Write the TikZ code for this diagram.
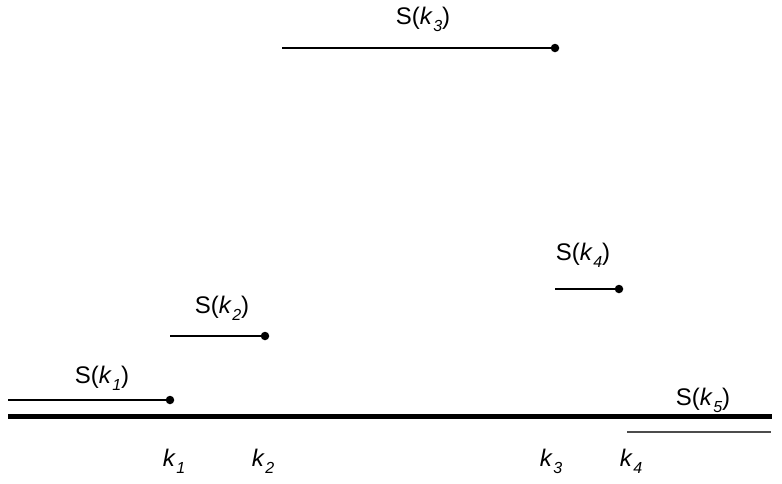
\documentclass[tikz,border=0pt]{standalone}
\usepackage{fontspec}
\setmainfont{Liberation Sans}
\newcommand\ksub[1]{\textit{k}\kern0.5pt\raisebox{-0.3em}{\fontsize{16}{16}\selectfont\itshape #1}}
\begin{document}
\begin{tikzpicture}[x=1pt,y=-1pt,
  lbl/.style={anchor=base,inner sep=0pt,font=\fontsize{24}{24}\selectfont},
  seg/.style={line width=2pt},
  dotpt/.style={circle,fill=black,inner sep=0pt,minimum size=8.5pt}]
\useasboundingbox (0,0) rectangle (782,483);
% axis
\coordinate (a0) at (8,416);
\coordinate (a1) at (772,416);
\draw[line width=5pt] (a0) -- (a1);
% S(k1)
\coordinate (s1) at (8,400);
\node[dotpt] (d1) at (170,400) {};
\draw[seg] (s1) -- (d1.center);
\node[lbl] (l1) at (102,383) {S(\ksub{1})};
% S(k2)
\coordinate (s2) at (170,336);
\node[dotpt] (d2) at (265,336) {};
\draw[seg] (s2) -- (d2.center);
\node[lbl] (l2) at (222,313) {S(\ksub{2})};
% S(k3)
\coordinate (s3) at (282,48);
\node[dotpt] (d3) at (555,48) {};
\draw[seg] (s3) -- (d3.center);
\node[lbl] (l3) at (423,24) {S(\ksub{3})};
% S(k4)
\coordinate (s4) at (555,289);
\node[dotpt] (d4) at (619,289) {};
\draw[seg] (s4) -- (d4.center);
\node[lbl] (l4) at (583,260) {S(\ksub{4})};
% S(k5)
\coordinate (s5a) at (627,432);
\coordinate (s5b) at (771,432);
\draw[line width=1.3pt,black!70] (s5a) -- (s5b);
\node[lbl] (l5) at (703,405) {S(\ksub{5})};
% k labels
\node[lbl] (k1) at (174,466) {\ksub{1}};
\node[lbl] (k2) at (263,466) {\ksub{2}};
\node[lbl] (k3) at (551,466) {\ksub{3}};
\node[lbl] (k4) at (631,466) {\ksub{4}};
\end{tikzpicture}
\end{document}
